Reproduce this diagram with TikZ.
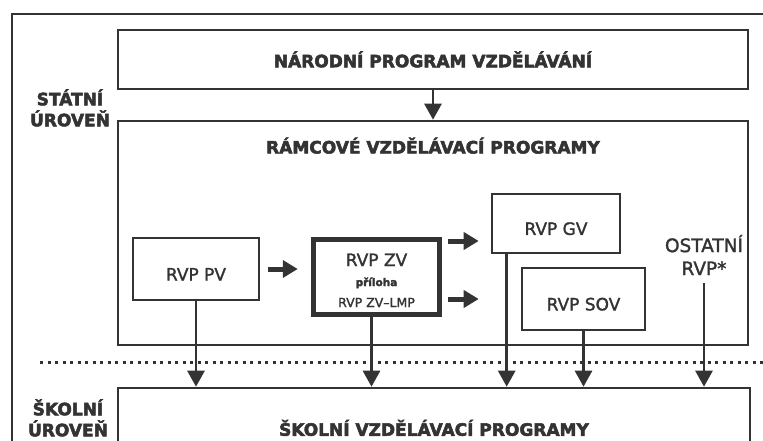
\documentclass[tikz,border=0pt]{standalone}
\usepackage{fontspec}
\setmainfont{DejaVu Sans}[FakeBold=1.6, BoldFeatures={FakeBold=3}]
\usepackage{xcolor}
\usetikzlibrary{arrows.meta, positioning}
\definecolor{ink}{HTML}{333333}

\begin{document}
\begin{tikzpicture}[
        x=1pt, y=-1pt,
        >=Latex,
        frame/.style={draw=ink, line width=2.6pt},
        box/.style={draw=ink, line width=2.6pt, align=center, inner sep=0pt, text=ink, font={\fontsize{17}{19}\selectfont}},
        lowtext/.style={text height=23pt},
        boldbox/.style={box, line width=5.5pt},
        heading/.style={align=center, inner sep=0pt, text=ink, font={\bfseries\fontsize{17}{21}\selectfont}},
        headbox/.style={box, font={\bfseries\fontsize{17}{21}\selectfont}},
        vflow/.style={-{Triangle[width=17pt,length=16pt]}, draw=ink, line width=2.8pt},
        hflow/.style={-{Triangle[width=17pt,length=15pt]}, draw=ink, line width=5pt},
        levelsep/.style={draw=ink, line width=3pt, dash pattern=on 3pt off 4.5pt}
    ]
        \useasboundingbox (0,0) rectangle (763,441);
        \clip (0,0) rectangle (763,441);
        \fill[white] (0,0) rectangle (763,441);
        \draw[frame] (12,14) rectangle (790,470);

        \node[heading] (statni) at (70,108) {STÁTNÍ\\ÚROVEŇ};
        \node[heading] (skolni) at (68,418) {ŠKOLNÍ\\ÚROVEŇ};

        \node[headbox, minimum width=630pt, minimum height=59pt] (npv) at (433,59.5) {NÁRODNÍ PROGRAM VZDĚLÁVÁNÍ};

        \node[box, minimum width=630pt, minimum height=224pt] (rvp) at (433,233) {};
        \node[heading] (rvptitle) at ([yshift=-26pt]rvp.north) {RÁMCOVÉ VZDĚLÁVACÍ PROGRAMY};

        \node[box, lowtext, minimum width=126pt, minimum height=62pt] (pv) at (196,269) {RVP PV};
        \node[boldbox, minimum width=126pt, minimum height=75pt] (zv) at (376.5,277) {%
            \rule{0pt}{19pt}RVP ZV\\[1pt]
            {\bfseries\fontsize{10.5}{11}\selectfont příloha}\\[2pt]
            {\fontsize{12.5}{14}\selectfont RVP ZV--LMP}};
        \node[box, lowtext, minimum width=128pt, minimum height=59pt] (gv) at (556,223.5) {RVP GV};
        \node[box, lowtext, minimum width=123pt, minimum height=62pt] (sov) at (583.5,299) {RVP SOV};
        \node[align=center, inner sep=0pt, text=ink, font={\fontsize{18.5}{23}\selectfont}] (ostatni) at (704,255) {OSTATNÍ\\RVP*};

        \node[headbox, minimum width=632pt, minimum height=80pt] (svp) at (434,428) {ŠKOLNÍ VZDĚLÁVACÍ PROGRAMY};

        \draw[levelsep] (40,362) -- (763,362);

        \draw[vflow] (npv) -- (rvp);
        \draw[hflow, shorten <=8pt, shorten >=13pt] (pv.east) -- (pv.east -| zv.west);
        \coordinate (zvtop) at ([yshift=36pt]zv.east);
        \coordinate (zvbot) at ([yshift=-22pt]zv.east);
        \draw[hflow, shorten <=6pt, shorten >=12pt] (zvtop) -- (zvtop -| gv.west);
        \draw[hflow, shorten <=6pt, shorten >=42pt] (zvbot) -- (zvbot -| sov.west);

        \coordinate (zvout) at ([xshift=-5pt]zv.south);
        \coordinate (gvout) at ([xshift=16pt]gv.south west);
        \coordinate (ostout) at ([yshift=-8pt]ostatni.south);
        \draw[vflow] (pv.south) -- (pv.south |- svp.north);
        \draw[vflow] (zvout) -- (zvout |- svp.north);
        \draw[vflow] (gvout) -- (gvout |- svp.north);
        \draw[vflow] (sov.south) -- (sov.south |- svp.north);
        \draw[vflow] (ostout) -- (ostout |- svp.north);
    \end{tikzpicture}
\end{document}
